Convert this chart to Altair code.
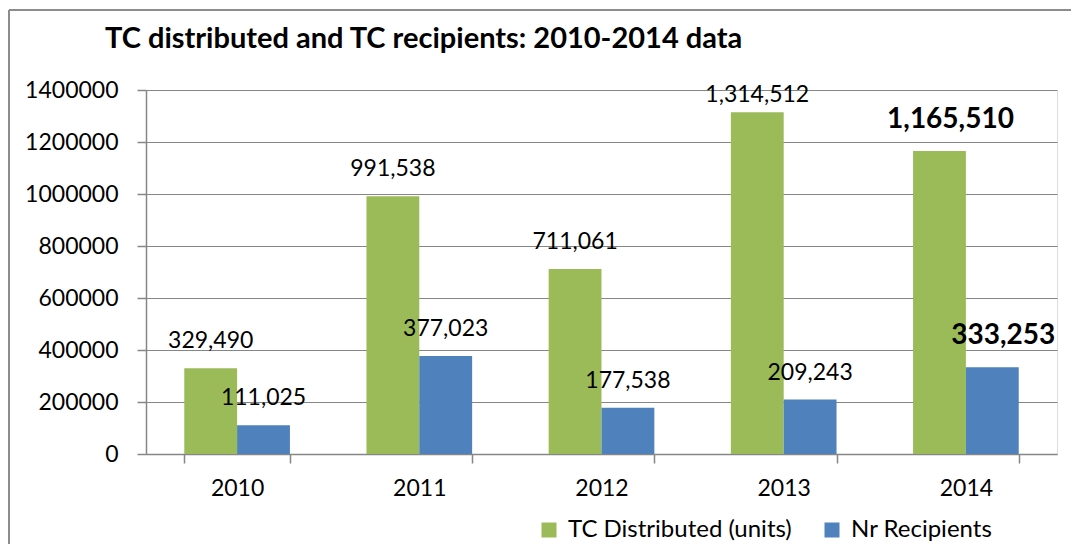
import altair as alt
import pandas as pd

years = ["2010", "2011", "2012", "2013", "2014"]
tc_distributed = [329490, 991538, 711061, 1314512, 1165510]
nr_recipients = [111025, 377023, 177538, 209243, 333253]
series = ["TC Distributed (units)", "Nr Recipients"]
colors = ["#9BBB59", "#4F81BD"]
highlight_year = "2014"
y_ticks = [0, 200000, 400000, 600000, 800000, 1000000, 1200000, 1400000]
y_max = 1400000

rows = []
for i, yr in enumerate(years):
    rows.append({"year": yr, "series": series[0], "value": tc_distributed[i]})
    rows.append({"year": yr, "series": series[1], "value": nr_recipients[i]})
df = pd.DataFrame(rows)
df["bold"] = df["year"] == highlight_year

FONT = "Lato"
GRID = "#868686"
PLOT_H = 364
PX = y_max / PLOT_H  # data units per pixel

x_enc = alt.X(
    "year:N",
    sort=years,
    scale=alt.Scale(paddingInner=0.42, paddingOuter=0.21),
    axis=alt.Axis(
        title=None, labelAngle=0, labelFontSize=23, labelColor="black",
        tickBand="extent", tickSize=9, tickColor=GRID, domainColor=GRID,
        tickWidth=1.5, domainWidth=1.5,
        labelPadding=14, labelFont=FONT,
    ),
)
xoff_enc = alt.XOffset("series:N", scale=alt.Scale(domain=series))
y_scale = alt.Scale(domain=[0, y_max], nice=False)
y_axis = alt.Axis(
    title=None, values=y_ticks, format="d", labelFontSize=23,
    labelColor="black", gridColor=GRID, tickColor=GRID, domainColor=GRID,
    gridWidth=1.2, tickWidth=1.5, domainWidth=1.5,
    tickSize=9, labelPadding=19, labelFont=FONT,
)

base = alt.Chart(df).encode(x=x_enc, xOffset=xoff_enc)

bars = base.mark_bar().encode(
    y=alt.Y("value:Q", scale=y_scale, axis=y_axis),
    color=alt.Color(
        "series:N",
        scale=alt.Scale(domain=series, range=colors),
        legend=alt.Legend(
            title=None, orient="none", legendX=391, legendY=428,
            direction="horizontal", symbolType="square", symbolSize=225,
            symbolStrokeWidth=0, labelFontSize=24, labelFont=FONT,
            labelColor="black", columnPadding=28, labelOffset=7,
            labelLimit=400,
        ),
    ),
)

# label placed 27px above bar top, kept inside the plot (as Excel does)
labels = base.transform_filter("!datum.bold").transform_calculate(
    label_y=f"min(datum.value + {27 * PX}, {y_max - 5 * PX})"
).mark_text(
    font=FONT, fontSize=23, color="black", baseline="middle"
).encode(
    y=alt.Y("label_y:Q", scale=y_scale, axis=y_axis),
    text=alt.Text("value:Q", format=","),
)

labels_bold = base.transform_filter("datum.bold").mark_text(
    font=FONT, fontSize=28, fontWeight="bold", color="black",
    baseline="middle", dy=-31, dx=11,
).encode(
    y=alt.Y("value:Q", scale=y_scale, axis=y_axis),
    text=alt.Text("value:Q", format=","),
)

frame_df = pd.DataFrame({"k": [0]})
frame_left = alt.Chart(frame_df).mark_rule(color="#8c8c8c", strokeWidth=2).encode(
    x=alt.value(-137), y=alt.value(-80), y2=alt.value(480)
)
frame_top = alt.Chart(frame_df).mark_rule(color="#8c8c8c", strokeWidth=2).encode(
    x=alt.value(-137), x2=alt.value(940), y=alt.value(-80)
)

chart = alt.layer(bars, labels, labels_bold, frame_left, frame_top).properties(
    width=911,
    height=PLOT_H,
    autosize=alt.AutoSizeParams(type="none"),
    padding={"left": 138, "top": 82, "right": 14, "bottom": 90},
    title=alt.Title(
        "TC distributed and TC recipients: 2010-2014 data",
        anchor="start", dx=-41, offset=-45, fontSize=29, font=FONT,
        fontWeight="bold", color="black", frame="group",
    ),
).resolve_scale(y="shared").configure_view(stroke=None).configure(font=FONT)

chart.save("out.html", embed_options={"renderer": "svg", "actions": False})
